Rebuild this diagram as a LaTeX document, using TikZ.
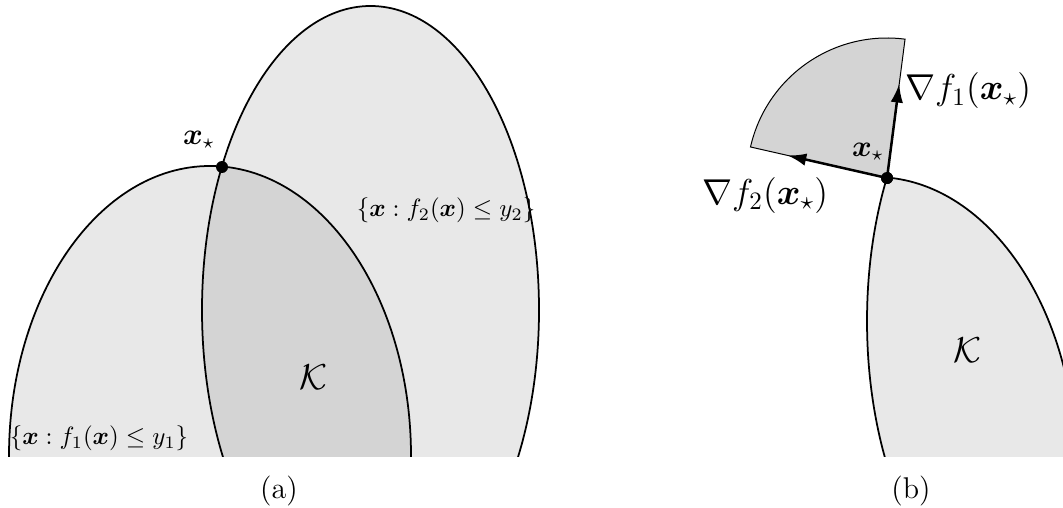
\documentclass[tikz,border=0pt]{standalone}
\usepackage{amsmath,amssymb}
\usepackage{xcolor}
\usepackage{tikz}
\usetikzlibrary{arrows.meta,positioning,calc}

% the two sublevel sets
\newcommand{\levelone}{(210,51) ellipse [x radius=201, y radius=290]}
\newcommand{\leveltwo}{(370.5,197) ellipse [x radius=168.5, y radius=304]}

\begin{document}
\begin{tikzpicture}[
  x=0.4pt, y=0.4pt,
  setfill/.style={fill=black!9},
  kfill/.style={fill=black!17},
  border/.style={line width=0.7pt},
  conerim/.style={draw, line width=0.4pt},
  grad/.style={-{Latex[length=7.5pt,width=5pt]}, line width=1pt},
  pt/.style={circle, fill, inner sep=0pt, minimum size=4.8pt},
]
\useasboundingbox (0,0) rectangle (1063,507);

% (a) the two sets and their intersection
\begin{scope}
  \clip (0,51) rectangle (1063,520);
  \fill[setfill] \levelone;
  \fill[setfill] \leveltwo;
  \begin{scope}
    \clip \levelone;
    \fill[kfill] \leveltwo;
  \end{scope}
  \draw[border] \levelone;
  \draw[border] \leveltwo;
\end{scope}

\node[pt] (xa) at (222,340) {};
\node (xalbl) at (199,367) {\large$\boldsymbol{x}_\star$};
\node (ka) at (313,130) {\Large$\mathcal{K}$};
\node (s1) at (99,69) {$\{\boldsymbol{x} : f_1(\boldsymbol{x}) \le y_1\}$};
\node (s2) at (446,297) {$\{\boldsymbol{x} : f_2(\boldsymbol{x}) \le y_2\}$};
\node (capa) at (279,16) {\large(a)};

% (b) close-up of K at x_star with the normal cone
\begin{scope}[shift={(665,-11)}]
  \clip (0,62) rectangle (398,520);
  \begin{scope}
    \clip \levelone;
    \fill[setfill] \leveltwo;
    \draw[border] \leveltwo;
  \end{scope}
  \begin{scope}
    \clip \leveltwo;
    \draw[border] \levelone;
  \end{scope}
\end{scope}

\node[pt] (xb) at (887,329) {};
\fill[kfill] (xb.center) -- ++(82.6:140) arc[start angle=82.6, end angle=167.2, radius=140] -- cycle;
\draw[conerim] (xb.center) -- ++(82.6:140) arc[start angle=82.6, end angle=167.2, radius=140] -- cycle;

\coordinate (g1) at ($(xb.center)+(82.6:95)$);
\coordinate (g2) at ($(xb.center)+(167.2:102)$);
\draw[grad] (xb.center) -- (g1);
\draw[grad] (xb.center) -- (g2);
\node[pt] at (xb) {};

\node (g1lbl) at (968,416) {\Large$\nabla f_1(\boldsymbol{x}_\star)$};
\node (g2lbl) at (765,312) {\Large$\nabla f_2(\boldsymbol{x}_\star)$};
\node (xblbl) at (868,355) {\large$\boldsymbol{x}_\star$};
\node (kb) at (967,157) {\Large$\mathcal{K}$};
\node (capb) at (911,16) {\large(b)};

\end{tikzpicture}
\end{document}
